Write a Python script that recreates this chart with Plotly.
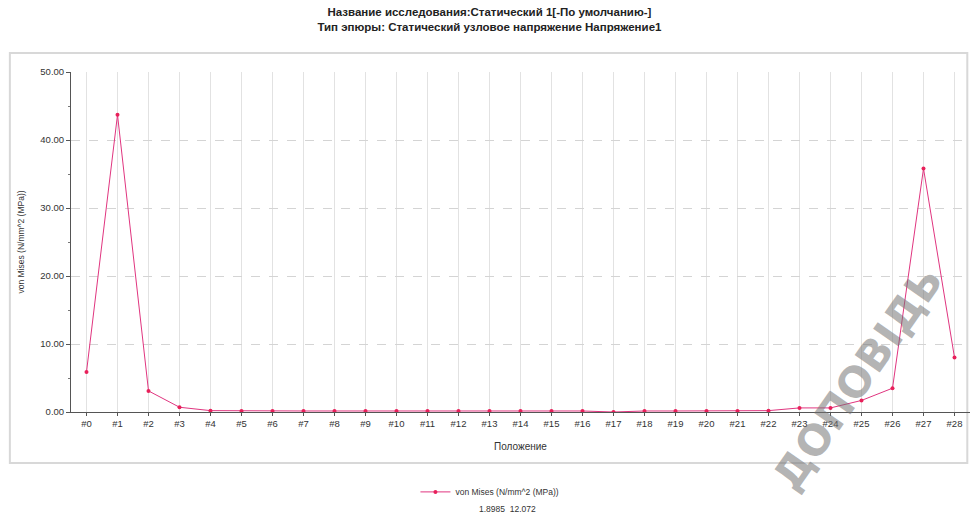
import plotly.graph_objects as go

# Probe points along the path and von Mises stress at each (MPa)
nodes = [f"#{i}" for i in range(29)]
stress = [5.9, 43.7, 3.1, 0.7, 0.2, 0.15, 0.15, 0.15, 0.15, 0.15,
          0.15, 0.15, 0.15, 0.15, 0.15, 0.15, 0.15, 0.0, 0.15, 0.15,
          0.15, 0.15, 0.2, 0.6, 0.6, 1.7, 3.5, 35.8, 8.0]
y_ticks = [0, 10, 20, 30, 40, 50]

title_lines = [
    "Название исследования:Статический 1[-По умолчанию-]",
    "Тип эпюры: Статический узловое напряжение Напряжение1",
]
series_name = "von Mises (N/mm^2 (MPa))"
x_title = "Положение"
range_note = "1.8985  12.072"

FONT = "Liberation Sans"
TXT = "#333333"
LINE = "#e0357f"

fig = go.Figure()
fig.add_trace(go.Scatter(
    x=nodes, y=stress, mode="lines+markers", name=series_name,
    line=dict(color=LINE, width=1),
    marker=dict(color="#e8205a", size=4),
))

fig.update_layout(
    width=973, height=522,
    margin=dict(l=71, r=3, t=72, b=110),
    paper_bgcolor="white", plot_bgcolor="white",
    font=dict(family=FONT, size=9, color=TXT),
    title=dict(
        text="<b>" + "<br>".join(title_lines) + "</b>",
        x=0.503, xanchor="center", y=0.97, yanchor="middle",
        font=dict(family=FONT, size=11.5, color="#222222"),
    ),
    showlegend=True,
    legend=dict(
        orientation="h", x=0.466, xanchor="center", y=-0.235, yanchor="middle",
        font=dict(family=FONT, size=8.5, color=TXT),
        bgcolor="rgba(0,0,0,0)",
    ),
)

fig.update_xaxes(
    type="category", range=[-0.5, 28.5],
    showline=True, linecolor="#555555", linewidth=1,
    ticks="outside", ticklen=3, tickcolor="#555555",
    showgrid=True, gridcolor="#e2e2e2", gridwidth=1,
    tickfont=dict(family=FONT, size=9.5, color=TXT),
    title=dict(text=x_title, standoff=14, font=dict(family=FONT, size=10, color=TXT)),
    zeroline=False,
)
fig.update_yaxes(
    range=[0, 50], tickvals=y_ticks, tickformat=".2f",
    showline=True, linecolor="#555555", linewidth=1,
    ticks="outside", ticklen=4, tickcolor="#555555",
    minor=dict(dtick=5, ticks="outside", ticklen=2, tickcolor="#777777", showgrid=False),
    showgrid=True, gridcolor="#d4d4d4", griddash="dash", gridwidth=1,
    tickfont=dict(family=FONT, size=9.5, color=TXT),
    title=dict(text=series_name, standoff=14, font=dict(family=FONT, size=8.5, color=TXT)),
    zeroline=False,
)

# Chart frame around the plotting area
fig.add_shape(
    type="rect", xref="paper", yref="paper",
    x0=-0.068, x1=0.997, y0=-0.15, y1=1.056,
    line=dict(color="#d8d8d8", width=2), fillcolor="rgba(0,0,0,0)", layer="below",
)

fig.add_annotation(
    text=range_note, xref="paper", yref="paper", x=0.485, y=-0.305,
    showarrow=False, font=dict(family=FONT, size=8.5, color=TXT),
)

# Preview watermark, lower right corner
fig.add_annotation(
    text="<b>ДОПОВІДЬ</b>", xref="paper", yref="paper", x=0.875, y=0.1,
    xanchor="center", yanchor="middle",
    showarrow=False, textangle=-55,
    font=dict(family="DejaVu Sans", size=42, color="rgba(115,115,115,0.55)"),
)

fig.write_html("out.html")
